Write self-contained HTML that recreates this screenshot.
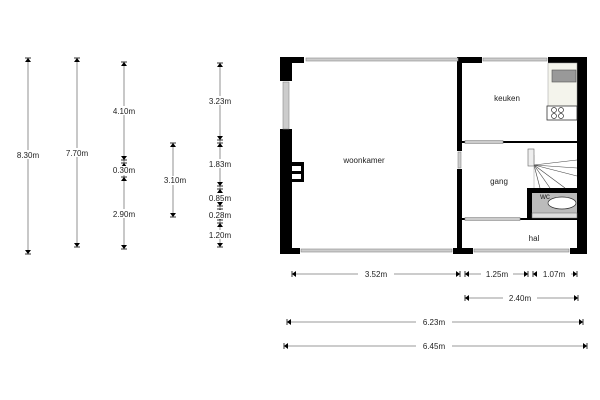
<!DOCTYPE html>
<html><head><meta charset="utf-8"><style>html,body{margin:0;padding:0;background:#fff}svg{display:block}text{font-family:"Liberation Sans",sans-serif;font-size:8px;fill:#222}</style></head><body>
<svg width="600" height="400" viewBox="0 0 600 400" xmlns="http://www.w3.org/2000/svg">
<defs>
<g id="au"><polygon points="-3,4 3,4 0,0" fill="#000"/><line x1="-3" y1="0" x2="3" y2="0" stroke="#000" stroke-width="0.8"/></g>
<g id="ad"><polygon points="-3,-4 3,-4 0,0" fill="#000"/><line x1="-3" y1="0" x2="3" y2="0" stroke="#000" stroke-width="0.8"/></g>
<g id="al"><polygon points="4,-3 4,3 0,0" fill="#000"/><line x1="0" y1="-3" x2="0" y2="3" stroke="#000" stroke-width="0.8"/></g>
<g id="ar"><polygon points="-4,-3 -4,3 0,0" fill="#000"/><line x1="0" y1="-3" x2="0" y2="3" stroke="#000" stroke-width="0.8"/></g>
</defs>
<g stroke="#777" stroke-width="0.8">
<line x1="28" y1="58" x2="28" y2="254"/>
<line x1="77" y1="58" x2="77" y2="247"/>
<line x1="124" y1="62" x2="124" y2="249"/>
<line x1="173" y1="143" x2="173" y2="217"/>
<line x1="220" y1="63" x2="220" y2="247"/>
<line x1="292" y1="274" x2="460" y2="274"/>
<line x1="465" y1="274" x2="528" y2="274"/>
<line x1="533" y1="274" x2="577" y2="274"/>
<line x1="465" y1="298" x2="578" y2="298"/>
<line x1="287" y1="322" x2="583" y2="322"/>
<line x1="284" y1="346" x2="587" y2="346"/>
</g>
<use href="#au" x="28" y="58"/><use href="#ad" x="28" y="254"/>
<use href="#au" x="77" y="58"/><use href="#ad" x="77" y="247"/>
<use href="#au" x="124" y="62"/><use href="#ad" x="124" y="160"/>
<use href="#au" x="124" y="163"/><use href="#ad" x="124" y="174"/>
<use href="#au" x="124" y="177"/><use href="#ad" x="124" y="249"/>
<use href="#au" x="173" y="143"/><use href="#ad" x="173" y="217"/>
<use href="#au" x="220" y="63"/><use href="#ad" x="220" y="140"/>
<use href="#au" x="220" y="143"/><use href="#ad" x="220" y="186"/>
<use href="#au" x="220" y="189"/><use href="#ad" x="220" y="206"/>
<use href="#au" x="220" y="209"/><use href="#ad" x="220" y="220"/>
<use href="#au" x="220" y="223"/><use href="#ad" x="220" y="247"/>
<use href="#al" x="292" y="274"/><use href="#ar" x="460" y="274"/>
<use href="#al" x="465" y="274"/><use href="#ar" x="528" y="274"/>
<use href="#al" x="533" y="274"/><use href="#ar" x="577" y="274"/>
<use href="#al" x="465" y="298"/><use href="#ar" x="578" y="298"/>
<use href="#al" x="287" y="322"/><use href="#ar" x="583" y="322"/>
<use href="#al" x="284" y="346"/><use href="#ar" x="587" y="346"/>
<g text-anchor="middle">
<rect x="8" y="150" width="40" height="9" fill="#fff"/><text x="28" y="158">8.30m</text>
<rect x="57" y="148" width="40" height="9" fill="#fff"/><text x="77" y="156">7.70m</text>
<rect x="104" y="106" width="40" height="9" fill="#fff"/><text x="124" y="114">4.10m</text>
<rect x="104" y="166" width="40" height="9" fill="#fff"/><text x="124" y="173">0.30m</text>
<rect x="104" y="209" width="40" height="9" fill="#fff"/><text x="124" y="217">2.90m</text>
<rect x="153" y="176" width="40" height="9" fill="#fff"/><text x="175" y="183">3.10m</text>
<rect x="200" y="96" width="40" height="9" fill="#fff"/><text x="220" y="104">3.23m</text>
<rect x="200" y="159" width="40" height="9" fill="#fff"/><text x="220" y="167">1.83m</text>
<rect x="200" y="193" width="40" height="9" fill="#fff"/><text x="220" y="201">0.85m</text>
<rect x="200" y="210" width="40" height="9" fill="#fff"/><text x="220" y="218">0.28m</text>
<rect x="200" y="230" width="40" height="9" fill="#fff"/><text x="220" y="238">1.20m</text>
<rect x="358" y="269" width="36" height="9" fill="#fff"/><text x="376" y="277">3.52m</text>
<rect x="481" y="269" width="32" height="9" fill="#fff"/><text x="497" y="277">1.25m</text>
<rect x="537" y="269" width="34" height="9" fill="#fff"/><text x="554" y="277">1.07m</text>
<rect x="503" y="293" width="34" height="9" fill="#fff"/><text x="520" y="301">2.40m</text>
<rect x="416" y="317" width="36" height="9" fill="#fff"/><text x="434" y="325">6.23m</text>
<rect x="416" y="341" width="36" height="9" fill="#fff"/><text x="434" y="349">6.45m</text>
</g>
<!-- floor plan -->
<g fill="#000">
<rect x="280" y="57" width="24" height="6"/>
<rect x="280" y="57" width="12" height="24"/>
<rect x="280" y="129" width="12" height="125"/>
<rect x="280" y="248" width="20" height="6"/>
<rect x="457" y="57" width="25" height="6"/>
<rect x="457" y="57" width="5" height="197"/>
<rect x="453" y="248" width="20" height="6"/>
<rect x="548" y="57" width="39" height="6"/>
<rect x="577" y="57" width="10" height="197"/>
<rect x="570" y="248" width="17" height="6"/>
<rect x="462" y="141" width="115" height="2"/>
<rect x="462" y="218" width="115" height="2"/>
<rect x="527" y="188" width="50" height="30"/>
<rect x="292" y="162" width="12" height="20"/>
</g>
<g fill="#fff">
<rect x="457" y="151" width="5" height="18"/>
<rect x="292" y="166" width="9" height="5"/>
<rect x="292" y="174" width="9" height="5"/>
</g>
<g fill="#ccc" stroke="#888" stroke-width="0.6">
<rect x="306" y="58" width="152" height="3"/>
<rect x="483" y="58" width="64" height="3"/>
<rect x="301" y="249" width="151" height="3"/>
<rect x="474" y="249" width="95" height="3"/>
<rect x="283" y="82" width="6" height="47"/>
<rect x="465" y="140.5" width="38" height="3"/>
<rect x="465" y="217.5" width="55" height="3"/>
<rect x="458" y="152" width="3" height="16"/>
</g>
<rect x="548" y="63" width="29" height="45" fill="#f4f4ec" stroke="#999" stroke-width="0.5"/>
<rect x="552" y="70" width="24" height="12" fill="#999" stroke="#555" stroke-width="0.6"/>
<rect x="547" y="106" width="30" height="14" fill="#fff" stroke="#333" stroke-width="0.8"/>
<g fill="none" stroke="#333" stroke-width="0.7">
<circle cx="554" cy="110" r="2.5"/><circle cx="561" cy="110" r="2.5"/><circle cx="554" cy="116" r="2.5"/><circle cx="561" cy="116" r="2.5"/>
</g>
<g stroke="#444" stroke-width="0.6">
<line x1="534" y1="165" x2="577" y2="160"/><line x1="534" y1="165" x2="577" y2="168"/>
<line x1="534" y1="165" x2="577" y2="176"/><line x1="534" y1="165" x2="565" y2="188"/>
<line x1="534" y1="165" x2="550" y2="188"/><line x1="534" y1="165" x2="540" y2="188"/>
<line x1="534" y1="155" x2="534" y2="188" stroke="#aaa"/>
</g>
<rect x="528" y="149" width="6" height="17" fill="#eee" stroke="#666" stroke-width="0.6"/>
<rect x="532" y="193" width="45" height="21" fill="#bbb"/>
<ellipse cx="562" cy="203" rx="14" ry="6" fill="#fff" stroke="#333" stroke-width="0.7"/>
<rect x="532" y="213" width="45" height="5" fill="#ddd" stroke="#666" stroke-width="0.5"/>
<g text-anchor="middle">
<text x="364" y="163">woonkamer</text>
<text x="507" y="101">keuken</text>
<text x="499" y="184">gang</text>
<text x="545" y="199">wc</text>
<text x="534" y="241">hal</text>
</g>
</svg>
</body></html>
